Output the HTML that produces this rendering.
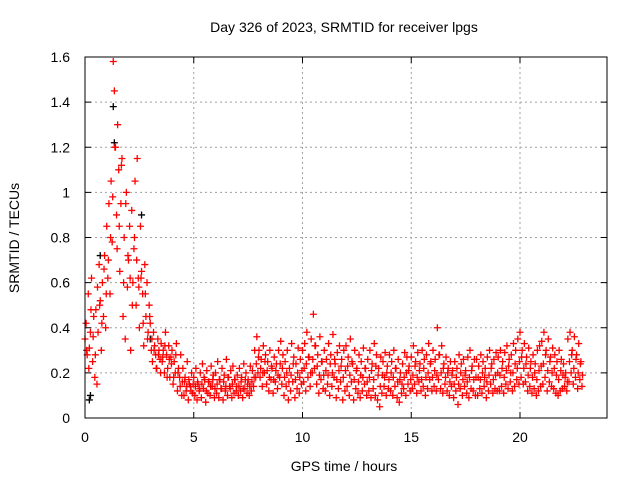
<!DOCTYPE html>
<html><head><meta charset="utf-8"><style>
body{margin:0;background:#fff}
svg{display:block;font-family:"Liberation Sans",sans-serif;font-size:14px}
</style></head><body>
<svg id="chart" width="640" height="480">
<rect x="0" y="0" width="640" height="480" fill="#fff"/>
<g id="grid"></g>
<g id="black"></g>
<g id="red"></g>
<rect x="85" y="57" width="522" height="361" fill="none" stroke="#000" stroke-width="1"/>
<g id="ticks"></g>
<text x="344" y="32" text-anchor="middle">Day 326 of 2023, SRMTID for receiver lpgs</text>
<text x="344" y="471" text-anchor="middle">GPS time / hours</text>
<text x="0" y="0" text-anchor="middle" transform="translate(19,238) rotate(-90)">SRMTID / TECUs</text>
</svg>
<script>
const xTicks=[0,5,10,15,20];
const yTicks=[0,0.2,0.4,0.6,0.8,1,1.2,1.4,1.6];
const yTickLabels=["0","0.2","0.4","0.6","0.8","1","1.2","1.4","1.6"];
const timeStep=0.1;
const valsA=[0.35,0.28,0.31,0.62,0.45,0.48,0.38,0.52,0.60,0.72,
0.85,0.95,1.05,1.58,1.20,1.30,0.65,1.15,0.80,1.00,
0.70,0.30,0.60,1.05,1.15,0.40,0.65,0.32,0.45,0.38,
0.42,0.25,0.32,0.22,0.30,0.33,0.30,0.38,0.22,0.18,
0.30,0.25,0.33,0.22,0.28,
0.22,0.18,0.25,0.15,0.20,
0.18,0.22,0.15,0.20,0.24,0.17,0.21,0.16,0.23,0.19,
0.20,0.25,0.17,0.22,0.19,0.26,0.18,0.21,0.23,0.17,
0.19,0.22,0.18,0.24,0.20,0.17,0.23,0.21,0.30,0.36,
0.30,0.26,0.32,0.28,0.25,0.30,0.22,0.27,0.24,0.30,
0.34,0.28,0.25,0.30,0.22,0.33,0.27,0.24,0.31,0.26,
0.30,0.33,0.38,0.27,0.35,0.46,0.32,0.28,0.36,0.25,
0.30,0.26,0.33,0.28,0.37,0.24,0.29,0.32,0.26,0.30,
0.32,0.27,0.35,0.24,0.30,0.22,0.28,0.25,0.31,0.22,
0.26,0.30,0.24,0.33,0.28,0.22,0.27,0.25,0.29,0.23,
0.28,0.25,0.30,0.22,0.26,0.20,0.24,0.29,0.27,0.23,
0.27,0.32,0.25,0.29,0.24,0.30,0.26,0.28,0.33,0.25,
0.30,0.26,0.40,0.28,0.32,0.24,0.27,0.22,0.25,0.21,
0.25,0.22,0.28,0.24,0.26,0.21,0.27,0.30,0.23,0.26,
0.26,0.23,0.28,0.25,0.22,0.27,0.30,0.24,0.26,0.29,
0.27,0.30,0.25,0.29,0.32,0.26,0.28,0.33,0.30,0.35,
0.38,0.30,0.33,0.27,0.31,0.25,0.28,0.24,0.30,0.32,
0.34,0.38,0.30,0.35,0.27,0.31,0.28,0.25,0.30,0.26,
0.24,0.20,0.35,0.38,0.30,0.36,0.28,0.33,0.25];
const valsB=[0.42,0.55,0.38,0.25,0.18,0.15,0.68,0.30,0.45,0.40,
0.62,0.55,0.78,1.45,0.90,1.10,0.95,0.45,0.35,0.58,
0.85,0.92,0.75,0.50,0.62,0.85,0.55,0.68,0.60,0.50,
0.30,0.38,0.28,0.35,0.26,0.25,0.20,0.28,0.32,0.27,
0.15,0.20,0.12,0.18,0.10,
0.10,0.12,0.08,0.14,0.11,
0.10,0.08,0.12,0.09,0.13,0.07,0.11,0.10,0.14,0.09,
0.11,0.09,0.13,0.08,0.12,0.10,0.14,0.09,0.11,0.12,
0.10,0.12,0.09,0.13,0.11,0.10,0.12,0.14,0.18,0.20,
0.18,0.14,0.20,0.15,0.12,0.17,0.11,0.16,0.13,0.18,
0.15,0.10,0.14,0.08,0.12,0.16,0.09,0.13,0.11,0.15,
0.16,0.12,0.18,0.14,0.20,0.22,0.15,0.11,0.17,0.13,
0.12,0.15,0.10,0.14,0.18,0.09,0.13,0.16,0.08,0.12,
0.14,0.10,0.16,0.08,0.13,0.11,0.09,0.12,0.15,0.10,
0.12,0.09,0.13,0.10,0.08,0.05,0.11,0.14,0.10,0.13,
0.12,0.10,0.14,0.09,0.07,0.11,0.13,0.10,0.15,0.12,
0.13,0.15,0.11,0.16,0.12,0.14,0.10,0.13,0.17,0.12,
0.14,0.12,0.17,0.13,0.11,0.15,0.12,0.10,0.14,0.09,
0.12,0.06,0.13,0.10,0.14,0.11,0.09,0.13,0.12,0.10,
0.10,0.13,0.11,0.14,0.09,0.12,0.15,0.11,0.13,0.12,
0.12,0.14,0.11,0.15,0.13,0.16,0.12,0.14,0.17,0.15,
0.18,0.15,0.16,0.12,0.14,0.11,0.13,0.10,0.12,0.14,
0.15,0.18,0.12,0.16,0.14,0.13,0.11,0.10,0.12,0.13,
0.14,0.12,0.16,0.20,0.15,0.18,0.13,0.17,0.14];
const valsC=[0.30,0.22,0.48,0.36,0.28,0.58,0.50,0.42,0.66,0.55,
0.70,0.80,0.98,1.20,0.75,0.85,1.12,0.60,0.95,0.72,
0.62,0.50,0.80,0.70,0.58,0.62,0.42,0.55,0.35,0.45,
0.35,0.30,0.22,0.28,0.20,0.27,0.32,0.18,0.26,0.24,
0.18,0.28,0.20,0.14,0.16,
0.16,0.14,0.17,0.12,0.15,
0.14,0.16,0.13,0.15,0.18,0.12,0.16,0.14,0.17,0.13,
0.15,0.17,0.13,0.16,0.14,0.18,0.13,0.15,0.17,0.14,
0.14,0.16,0.13,0.17,0.15,0.14,0.16,0.18,0.24,0.27,
0.22,0.20,0.25,0.21,0.18,0.23,0.17,0.21,0.19,0.24,
0.22,0.18,0.20,0.16,0.19,0.24,0.17,0.20,0.18,0.21,
0.22,0.24,0.27,0.20,0.26,0.32,0.23,0.19,0.25,0.19,
0.21,0.19,0.24,0.20,0.26,0.17,0.21,0.23,0.18,0.21,
0.23,0.19,0.25,0.17,0.21,0.16,0.19,0.18,0.22,0.16,
0.18,0.21,0.17,0.23,0.19,0.14,0.19,0.18,0.20,0.17,
0.20,0.18,0.22,0.16,0.17,0.15,0.18,0.20,0.21,0.17,
0.19,0.23,0.18,0.21,0.17,0.22,0.18,0.20,0.24,0.18,
0.21,0.19,0.28,0.20,0.22,0.18,0.20,0.16,0.19,0.15,
0.18,0.15,0.20,0.17,0.19,0.16,0.18,0.21,0.17,0.18,
0.18,0.17,0.20,0.18,0.16,0.19,0.22,0.17,0.19,0.20,
0.19,0.22,0.18,0.21,0.23,0.20,0.20,0.24,0.22,0.25,
0.27,0.22,0.24,0.19,0.22,0.18,0.20,0.17,0.21,0.23,
0.24,0.28,0.21,0.25,0.20,0.22,0.19,0.17,0.21,0.19,
0.18,0.16,0.25,0.28,0.22,0.26,0.20,0.24,0.19];
const blackT=[0.2,0.25,0.7,1.3,1.35,2.6,3.0];
const blackV=[0.08,0.10,0.72,1.38,1.22,0.90,0.35];

const X0=85,X1=607,Y0=418,Y1=57,XMAX=24,YMAX=1.6;
const sx=t=>X0+t/XMAX*(X1-X0);
const sy=v=>Y0-v/YMAX*(Y0-Y1);
const NS="http://www.w3.org/2000/svg";
function mk(tag,attrs,parent){const e=document.createElementNS(NS,tag);for(const k in attrs)e.setAttribute(k,attrs[k]);parent.appendChild(e);return e;}
const grid=document.getElementById('grid'),ticks=document.getElementById('ticks');
xTicks.forEach(t=>{const x=sx(t);
 if(t>0){const g=mk('line',{x1:x,x2:x,y1:Y1,y2:Y0,stroke:'#a0a0a0','stroke-dasharray':'2,3'},grid);
 
 }
 mk('line',{x1:x,x2:x,y1:Y0,y2:Y0-6,stroke:'#000'},ticks);
 mk('line',{x1:x,x2:x,y1:Y1,y2:Y1+6,stroke:'#000'},ticks);
 const l=mk('text',{x:x,y:Y0+24,'text-anchor':'middle'},ticks);l.textContent=t;
 
 
});
yTicks.forEach((v,i)=>{const y=sy(v);
 if(v>0&&v<YMAX){const g=mk('line',{x1:X0,x2:X1,y1:y,y2:y,stroke:'#a0a0a0','stroke-dasharray':'2,3'},grid);
 
 }
 mk('line',{x1:X0,x2:X0+6,y1:y,y2:y,stroke:'#000'},ticks);
 mk('line',{x1:X1,x2:X1-6,y1:y,y2:y,stroke:'#000'},ticks);
 const l=mk('text',{x:X0-15,y:y+5,'text-anchor':'end'},ticks);l.textContent=yTickLabels[i];
 
 
});
function plus(x,y,col,parent){const p=mk('path',{d:`M${x-3.5},${y}h7M${x},${y-3.5}v7`,stroke:col,'stroke-width':1.3,fill:'none'},parent);
 
 }
const bg=document.getElementById('black'),rg=document.getElementById('red');
blackT.forEach((t,i)=>plus(sx(t),sy(blackV[i]),'#000',bg));
valsA.forEach((v,i)=>plus(sx(i*timeStep),sy(v),'#f00',rg));
valsB.forEach((v,i)=>plus(sx(i*timeStep+0.05),sy(v),'#f00',rg));
valsC.forEach((v,i)=>plus(sx(i*timeStep+0.075),sy(v),'#f00',rg));
</script>
</body></html>
